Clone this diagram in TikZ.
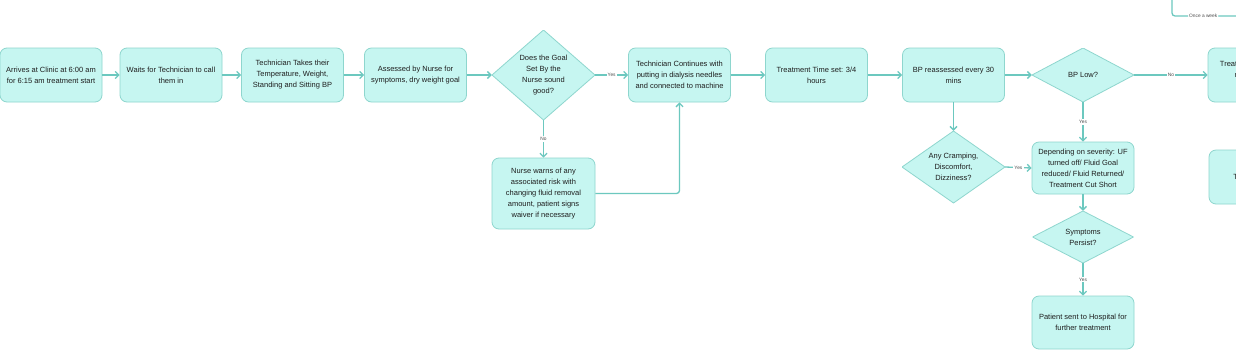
\documentclass[tikz,border=0pt]{standalone}
\usepackage{fontspec}
\setmainfont{Liberation Sans}
\usetikzlibrary{arrows.meta}
\definecolor{boxfill}{HTML}{C6F6F1}
\definecolor{boxline}{HTML}{8ED6CE}
\definecolor{arrowc}{HTML}{6CC8BF}
\definecolor{txt}{HTML}{1E1E1E}
\tikzset{
  proc/.style={draw=boxline, fill=boxfill, line width=0.8bp, rounded corners=7bp,
    minimum width=102bp, minimum height=54bp, inner sep=0pt, align=center,
    text=txt, font=\fontsize{7.5bp}{11bp}\selectfont},
  dec/.style={rectangle, inner sep=0pt, align=center, text=txt,
    font=\fontsize{7.5bp}{11bp}\selectfont,
    path picture={
      \path[fill=boxfill, draw=boxline, line width=0.8bp]
        (path picture bounding box.north) -- (path picture bounding box.east)
        -- (path picture bounding box.south) -- (path picture bounding box.west) -- cycle;}},
  flow/.style={draw=arrowc, line width=1.3bp, -{Straight Barb[length=3.5bp,width=7bp]}},
  plainflow/.style={draw=arrowc, line width=1.3bp},
  lbl/.style={fill=white, inner sep=1.2bp, text=black!70, font=\fontsize{4.8bp}{5bp}\selectfont}
}
\begin{document}
\begin{tikzpicture}[x=1bp, y=-1bp]
\useasboundingbox (0,0) rectangle (1236,350);
\clip (0,0) rectangle (1236,350);
\fill[white] (0,0) rectangle (1236,350);

\node[proc] (b1) at (51,75) {Arrives at Clinic at 6:00 am\\for 6:15 am treatment start};
\node[proc] (b2) at (171,75) {Waits for Technician to call\\them in};
\node[proc] (b3) at (292.5,75) {Technician Takes their\\Temperature, Weight,\\Standing and Sitting BP};
\node[proc] (b4) at (415.5,75) {Assessed by Nurse for\\symptoms, dry weight goal};
\node[dec, minimum width=103bp, minimum height=90bp] (d1) at (543.5,75) {Does the Goal\\Set By the\\Nurse sound\\good?};
\node[proc] (b5) at (679.5,75) {Technician Continues with\\putting in dialysis needles\\and connected to machine};
\node[proc, minimum width=103bp, minimum height=71bp] (b6) at (543.5,193.5) {Nurse warns of any\\associated risk with\\changing fluid removal\\amount, patient signs\\waiver if necessary};
\node[proc] (b7) at (816.5,75) {Treatment Time set: 3/4\\hours};
\node[proc] (b8) at (953.5,75) {BP reassessed every 30\\mins};
\node[dec, minimum width=102bp, minimum height=54bp] (d2) at (1083,75) {BP Low?};
\node[proc] (br) at (1259,75) {Treatment continues as\\normal with no\\Interventions};
\node[dec, minimum width=103bp, minimum height=72bp] (d3) at (953.5,167) {Any Cramping,\\Discomfort,\\Dizziness?};
\node[proc, minimum height=52bp] (b9) at (1083,168) {Depending on severity: UF\\turned off/ Fluid Goal\\reduced/ Fluid Returned/\\Treatment Cut Short};
\node[dec, minimum width=101bp, minimum height=52bp] (d4) at (1083,237) {Symptoms\\Persist?};
\node[proc, minimum height=53bp] (b10) at (1083,322.5) {Patient sent to Hospital for\\further treatment};
\node[proc] (br2) at (1260,177) {Treatment Ends};

\draw[flow] (b1) -- (b2);
\draw[flow] (b2) -- (b3);
\draw[flow] (b3) -- (b4);
\draw[flow] (b4) -- (d1.west);
\draw[flow] (d1.east) -- node[lbl] {Yes} (b5);
\draw[flow] (d1.south) -- node[lbl] {No} (b6.north);
\draw[flow, rounded corners=3bp] (b6.east) -| (b5.south);
\draw[flow] (b5) -- (b7);
\draw[flow] (b7) -- (b8);
\draw[flow] (b8) -- (d2.west);
\draw[flow] (d2.east) -- node[lbl] {No} (br.west);
\draw[flow] (b8.south) -- (d3.north);
\draw[flow] (d3.east) -- node[lbl] {Yes} (b9.west);
\draw[flow] (d2.south) -- node[lbl] {Yes} (b9.north);
\draw[flow] (b9.south) -- (d4.north);
\draw[flow] (d4.south) -- node[lbl] {Yes} (b10.north);

\coordinate (tr1) at (1172,-5);
\coordinate (tr2) at (1250,16);
\draw[plainflow, rounded corners=3bp] (tr1) |- node[lbl, pos=0.7] {Once a week} (tr2);
\end{tikzpicture}
\end{document}
